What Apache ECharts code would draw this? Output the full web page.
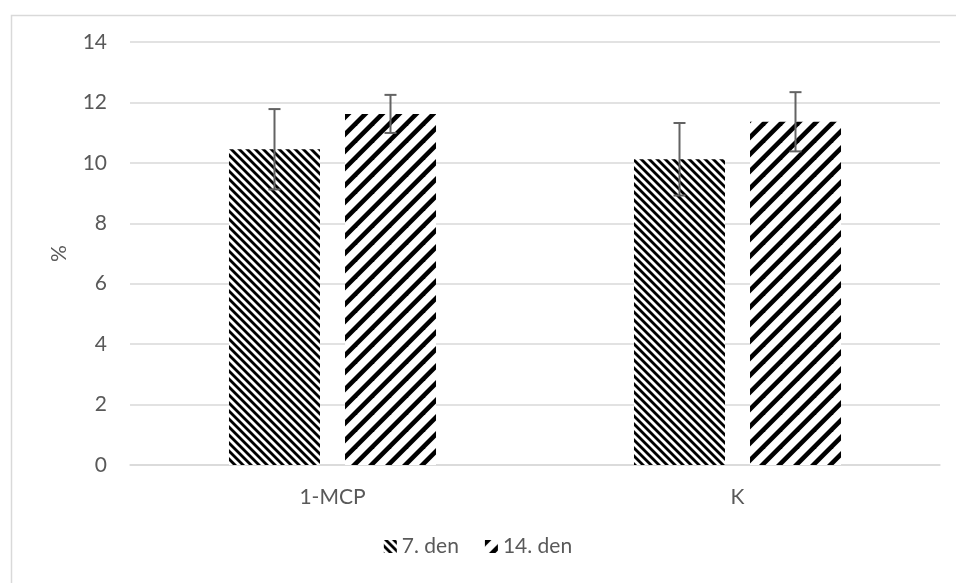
<!DOCTYPE html>
<html>
<head>
<meta charset="utf-8">
<script src="https://cdn.jsdelivr.net/npm/echarts@6/dist/echarts.min.js"></script>
<style>
html,body{margin:0;padding:0;background:#fff;}
#c{width:956px;height:583px;}
</style>
</head>
<body>
<div id="c"></div>
<script>
var categories = ['1-MCP', 'K'];
var seriesNames = ['7. den', '14. den'];
var den7 = [10.45, 10.12];
var den14 = [11.62, 11.36];
var err7 = [1.33, 1.2];
var err14 = [0.63, 0.98];
var yTicks = {min: 0, max: 14, interval: 2};

function makePattern(size, band, dir) {
  var cv = document.createElement('canvas');
  cv.width = size; cv.height = size;
  var ctx = cv.getContext('2d');
  ctx.fillStyle = '#fff';
  ctx.fillRect(0, 0, size, size);
  ctx.fillStyle = '#000';
  for (var k = -2; k <= 1; k++) {
    var x0 = k * size;
    ctx.beginPath();
    if (dir === 'back') {
      ctx.moveTo(x0, 0); ctx.lineTo(x0 + band, 0);
      ctx.lineTo(x0 + band + size, size); ctx.lineTo(x0 + size, size);
    } else {
      ctx.moveTo(x0, size); ctx.lineTo(x0 + band, size);
      ctx.lineTo(x0 + band + size, 0); ctx.lineTo(x0 + size, 0);
    }
    ctx.closePath();
    ctx.fill();
  }
  return {image: cv, repeat: 'repeat'};
}
var pat7 = makePattern(8, 4, 'back');
var pat14 = makePattern(17, 6.5, 'fwd');

var BAR_W = 91, GAP_PCT = '27.5%';
var OFFSET = 58;

function errSeries(vals, errs, off) {
  var data = vals.map(function (v, i) { return [i, v - errs[i], v + errs[i]]; });
  return {
    type: 'custom',
    silent: true,
    z: 10,
    renderItem: function (params, api) {
      var lo = api.coord([api.value(0), api.value(1)]);
      var hi = api.coord([api.value(0), api.value(2)]);
      var x = lo[0] + off;
      var cap = 6;
      var st = {stroke: '#636363', lineWidth: 2};
      return {type: 'group', children: [
        {type: 'line', shape: {x1: x, y1: hi[1], x2: x, y2: lo[1]}, style: st},
        {type: 'line', shape: {x1: x - cap, y1: hi[1], x2: x + cap, y2: hi[1]}, style: st},
        {type: 'line', shape: {x1: x - cap, y1: lo[1], x2: x + cap, y2: lo[1]}, style: st}
      ]};
    },
    data: data
  };
}

var chart = echarts.init(document.getElementById('c'));
var txt = {color: '#595959', fontFamily: 'Lato', fontSize: 21};
chart.setOption({
  animation: false,
  backgroundColor: '#fff',
  graphic: [{type: 'rect', left: 9, top: 13, shape: {width: 960, height: 580}, style: {fill: 'none', stroke: '#d9d9d9', lineWidth: 1.5}, silent: true}],
  grid: {left: 130, right: 16, top: 42, bottom: 118},
  legend: {
    data: seriesNames,
    bottom: 21,
    left: 'center',
    itemWidth: 13, itemHeight: 13, itemGap: 26,
    textStyle: txt,
    icon: 'rect'
  },
  xAxis: {
    type: 'category', data: categories,
    axisLine: {lineStyle: {color: '#d9d9d9', width: 1.5}},
    axisTick: {show: false},
    axisLabel: Object.assign({margin: 22}, txt)
  },
  yAxis: {
    type: 'value', min: yTicks.min, max: yTicks.max, interval: yTicks.interval,
    name: '%', nameLocation: 'middle', nameGap: 60, nameRotate: 90,
    nameTextStyle: txt,
    axisLine: {show: false}, axisTick: {show: false},
    splitLine: {lineStyle: {color: '#d9d9d9', width: 1.5}},
    axisLabel: Object.assign({margin: 23}, txt)
  },
  series: [
    {name: seriesNames[0], type: 'bar', data: den7, barWidth: BAR_W, barGap: GAP_PCT, itemStyle: {color: pat7}},
    {name: seriesNames[1], type: 'bar', data: den14, barWidth: BAR_W, barGap: GAP_PCT, itemStyle: {color: pat14}},
    errSeries(den7, err7, -OFFSET),
    errSeries(den14, err14, OFFSET)
  ]
});
</script>
</body>
</html>
